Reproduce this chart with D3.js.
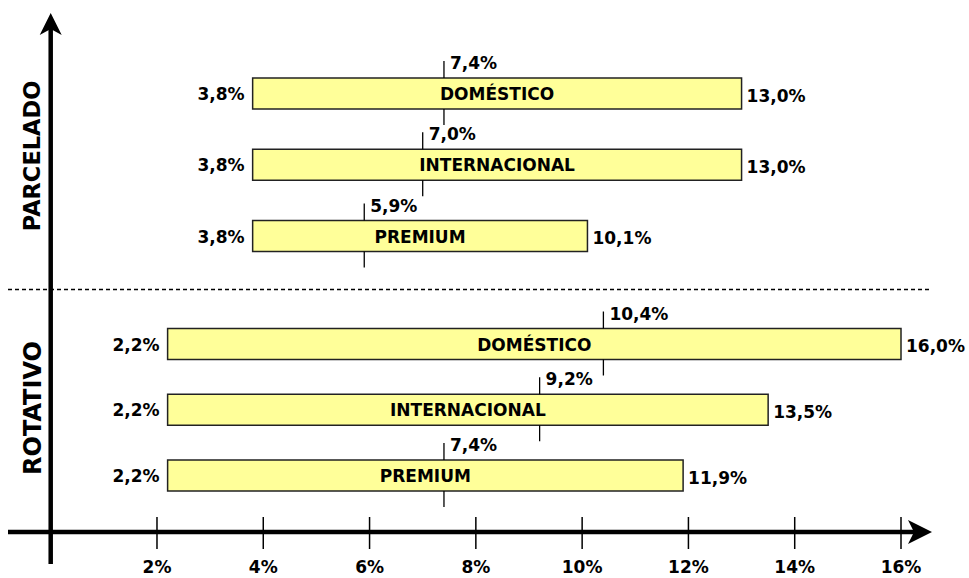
<!DOCTYPE html>
<html>
<head>
<meta charset="utf-8">
<script src="https://cdn.jsdelivr.net/npm/d3@7"></script>
<style>
  html, body { margin: 0; padding: 0; background: #fff; }
  svg { display: block; font-family: "DejaVu Sans", Verdana, sans-serif; font-weight: bold; }
</style>
</head>
<body>
<svg id="chart" width="969" height="578"></svg>
<script>
// ---- data ----
const groups = ["PARCELADO", "ROTATIVO"];
const categories = ["DOMÉSTICO", "INTERNACIONAL", "PREMIUM"];
const parceladoMin = [3.8, 3.8, 3.8];
const parceladoMed = [7.4, 7.0, 5.9];
const parceladoMax = [13.0, 13.0, 10.1];
const rotativoMin = [2.2, 2.2, 2.2];
const rotativoMed = [10.4, 9.2, 7.4];
const rotativoMax = [16.0, 13.5, 11.9];
const xTicks = [2, 4, 6, 8, 10, 12, 14, 16];

const fmt = v => v.toFixed(1).replace(".", ",") + "%";
const fmtTick = v => v + "%";

const svg = d3.select("#chart");

// ---- scales ----
const x = d3.scaleLinear().domain([0, 16]).range([50.7, 901]);
const yGroup = {
  PARCELADO: d3.scalePoint().domain(categories).range([93.5, 236]),
  ROTATIVO: d3.scalePoint().domain(categories).range([344, 475.5])
};
const groupData = {
  PARCELADO: { min: parceladoMin, med: parceladoMed, max: parceladoMax },
  ROTATIVO: { min: rotativoMin, med: rotativoMed, max: rotativoMax }
};
const rows = [];
groups.forEach(g => categories.forEach((c, i) => rows.push({
  group: g, cat: c,
  min: groupData[g].min[i], med: groupData[g].med[i], max: groupData[g].max[i],
  cy: yGroup[g](c)
})));

const barH = 31;
const axisY = 532;
const axisX = x(0);

// separator dashed line
svg.append("line")
  .attr("x1", 8).attr("x2", 929).attr("y1", 289.5).attr("y2", 289.5)
  .attr("stroke", "#000").attr("stroke-width", 1.3).attr("stroke-dasharray", "4,3");

// bars
const rowG = svg.selectAll("g.row").data(rows).join("g").attr("class", "row");

rowG.append("rect")
  .attr("x", d => x(d.min))
  .attr("y", d => d.cy - barH / 2)
  .attr("width", d => x(d.max) - x(d.min))
  .attr("height", barH)
  .attr("fill", "#FFFF99")
  .attr("stroke", "#222")
  .attr("stroke-width", 1.5);

// median ticks
rowG.append("line")
  .attr("x1", d => x(d.med)).attr("x2", d => x(d.med))
  .attr("y1", d => d.cy - barH / 2 - 17)
  .attr("y2", d => d.cy - barH / 2)
  .attr("stroke", "#000").attr("stroke-width", 1.3);
rowG.append("line")
  .attr("x1", d => x(d.med)).attr("x2", d => x(d.med))
  .attr("y1", d => d.cy + barH / 2)
  .attr("y2", d => d.cy + barH / 2 + 16)
  .attr("stroke", "#000").attr("stroke-width", 1.3);

// labels
rowG.append("text")
  .attr("x", d => x(d.min) - 8)
  .attr("y", d => d.cy + 6.5)
  .attr("text-anchor", "end")
  .attr("font-size", 17)
  .text(d => fmt(d.min));
rowG.append("text")
  .attr("x", d => x(d.max) + 5)
  .attr("y", d => d.cy + 8)
  .attr("font-size", 17)
  .text(d => fmt(d.max));
rowG.append("text")
  .attr("x", d => x(d.med) + 6)
  .attr("y", d => d.cy - barH / 2 - 9)
  .attr("font-size", 17)
  .text(d => fmt(d.med));
rowG.append("text")
  .attr("x", d => (x(d.min) + x(d.max)) / 2)
  .attr("y", d => d.cy + 6.5)
  .attr("text-anchor", "middle")
  .attr("font-size", 17)
  .text(d => d.cat);

// x axis
svg.append("line")
  .attr("x1", 8).attr("x2", 918).attr("y1", axisY).attr("y2", axisY)
  .attr("stroke", "#000").attr("stroke-width", 4.5);
svg.append("path")
  .attr("d", `M932,${axisY} L908,${axisY - 12} L914,${axisY} L908,${axisY + 12} Z`)
  .attr("fill", "#000");

const tickG = svg.selectAll("g.xtick").data(xTicks).join("g").attr("class", "xtick");
tickG.append("line")
  .attr("x1", d => x(d)).attr("x2", d => x(d))
  .attr("y1", axisY - 15).attr("y2", axisY + 17)
  .attr("stroke", "#000").attr("stroke-width", 1.5);
tickG.append("text")
  .attr("x", d => x(d))
  .attr("y", 573)
  .attr("text-anchor", "middle")
  .attr("font-size", 17)
  .text(d => fmtTick(d));

// y axis
svg.append("line")
  .attr("x1", axisX).attr("x2", axisX).attr("y1", 564).attr("y2", 28)
  .attr("stroke", "#000").attr("stroke-width", 4.5);
svg.append("path")
  .attr("d", `M${axisX},13 L${axisX - 11},35 L${axisX},29 L${axisX + 11},35 Z`)
  .attr("fill", "#000");

// group labels
const groupCenters = { PARCELADO: 156, ROTATIVO: 408 };
const groupSizes = { PARCELADO: 22.5, ROTATIVO: 24 };
svg.selectAll("text.group").data(groups).join("text")
  .attr("class", "group")
  .attr("transform", g => `translate(${g === "PARCELADO" ? 39.5 : 41},${groupCenters[g]}) rotate(-90)`)
  .attr("text-anchor", "middle")
  .attr("font-size", g => groupSizes[g])
  .text(g => g);
</script>
</body>
</html>
